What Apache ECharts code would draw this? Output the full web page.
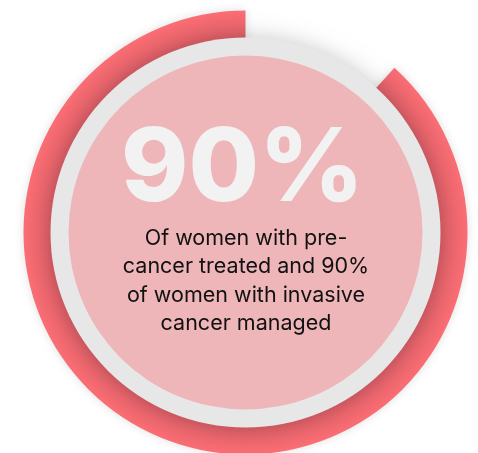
<!DOCTYPE html>
<html>
<head>
<meta charset="utf-8">
<script src="https://cdn.jsdelivr.net/npm/echarts@6/dist/echarts.min.js"></script>
<style>
  html, body { margin: 0; padding: 0; background: #fff; }
  #chart { width: 478px; height: 453px; }
</style>
</head>
<body>
<div id="chart"></div>
<script>
// ring share (filled part vs gap)
const ringNames = ['treated', 'gap']
const ringValues = [88.3, 11.7]
const headline = '90%'
const bodyLines = [
  'Of women with pre-',
  'cancer treated and 90%',
  'of women with invasive',
  'cancer managed'
]

const cx = 245.5
const cy = 232.5

const chart = echarts.init(document.getElementById('chart'))

const option = {
  animation: false,
  series: [
    {
      // red progress ring
      type: 'pie',
      silent: true,
      center: [cx, cy],
      radius: [190, 222],
      startAngle: 90,
      clockwise: false,
      label: { show: false },
      labelLine: { show: false },
      z: 1,
      data: ringNames.map((n, i) => ({
        name: n,
        value: ringValues[i],
        itemStyle: i === 0 ? {
          color: new echarts.graphic.RadialGradient(cx, cy, 222, [
            { offset: 0.86, color: '#de5f69' },
            { offset: 0.93, color: '#ee676e' },
            { offset: 1, color: '#fb6d74' }
          ], true),
          shadowBlur: 10,
          shadowColor: 'rgba(0,0,0,0.12)'
        } : { color: 'rgba(0,0,0,0)' }
      }))
    },
    {
      // grey disc with soft shadow
      type: 'pie',
      silent: true,
      center: [cx, cy],
      radius: [0, 195],
      label: { show: false },
      labelLine: { show: false },
      z: 2,
      itemStyle: {
        color: '#e7e7e7',
        shadowBlur: 22,
        shadowColor: 'rgba(0,0,0,0.22)'
      },
      data: [{ name: 'ring', value: 1 }]
    },
    {
      // pink inner disc
      type: 'pie',
      silent: true,
      center: [cx, cy],
      radius: [0, 177],
      label: { show: false },
      labelLine: { show: false },
      z: 3,
      itemStyle: { color: '#efb6b9' },
      data: [{ name: 'fill', value: 1 }]
    }
  ],
  graphic: [
    {
      type: 'text',
      z: 10,
      x: 242.5,
      y: 170,
      style: {
        text: headline,
        fill: '#f2f2f2',
        font: '800 102px Inter, "Open Sans", sans-serif',
        textAlign: 'center',
        textVerticalAlign: 'middle'
      }
    },
    {
      type: 'text',
      z: 10,
      x: 246,
      y: 224,
      style: {
        text: bodyLines.join('\n'),
        fill: '#111111',
        font: '400 21.5px Inter, "Open Sans", sans-serif',
        lineHeight: 28.5,
        textAlign: 'center',
        textVerticalAlign: 'top'
      }
    }
  ]
}

chart.setOption(option)
</script>
</body>
</html>
